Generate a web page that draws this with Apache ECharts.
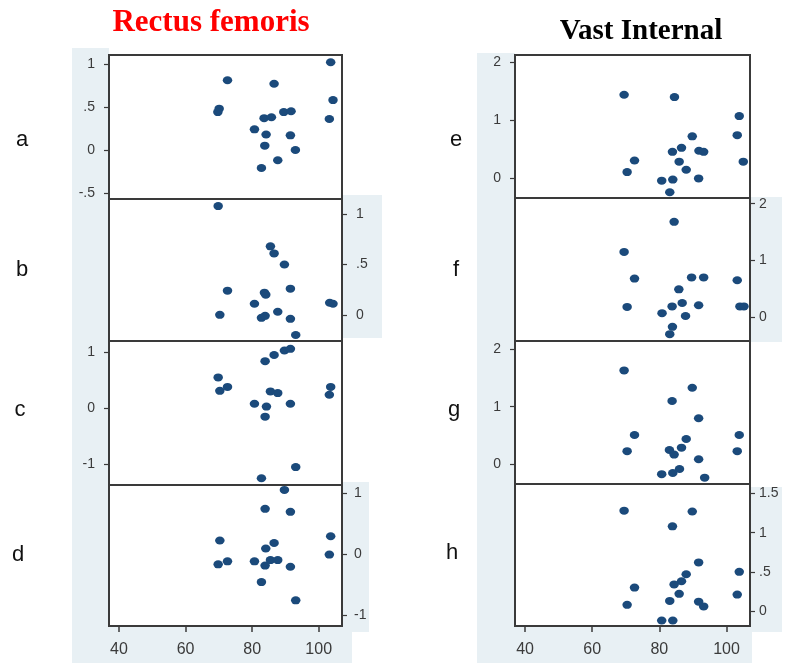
<!DOCTYPE html>
<html>
<head>
<meta charset="utf-8">
<style>
  html, body { margin: 0; padding: 0; background: #fff; }
  #chart { width: 792px; height: 663px; }
</style>
<script src="https://cdn.jsdelivr.net/npm/echarts@6/dist/echarts.min.js"></script>
</head>
<body>
<div id="chart"></div>
<script>
// x axis ticks, shared by both columns
const xTicks = [40, 60, 80, 100]

// Rectus femoris panels (a-d), [x, y]
const panelA = [
  [72.6, 0.81], [70.1, 0.48], [69.7, 0.44], [86.6, 0.77], [80.7, 0.24], [83.6, 0.37],
  [85.8, 0.38], [89.5, 0.44], [91.7, 0.45], [84.2, 0.18], [91.5, 0.17], [83.8, 0.05],
  [93.0, 0.0], [87.7, -0.12], [82.8, -0.21], [103.6, 1.02], [104.3, 0.58], [103.2, 0.36]
]
const panelB = [
  [69.8, 1.08], [85.5, 0.68], [86.6, 0.61], [89.7, 0.50], [72.6, 0.24], [83.7, 0.22],
  [84.1, 0.20], [91.5, 0.26], [80.7, 0.11], [70.3, 0.0], [82.8, -0.03], [83.9, -0.01],
  [87.7, 0.03], [91.5, -0.04], [93.1, -0.2], [103.3, 0.12], [104.3, 0.11]
]
const panelC = [
  [83.9, 0.84], [86.6, 0.95], [89.7, 1.03], [91.5, 1.06], [69.8, 0.55], [70.3, 0.31],
  [72.6, 0.38], [85.5, 0.30], [87.7, 0.27], [80.7, 0.08], [84.3, 0.03], [83.9, -0.15],
  [91.5, 0.08], [103.6, 0.38], [103.2, 0.24], [82.8, -1.25], [93.1, -1.05]
]
const panelD = [
  [89.7, 1.06], [83.9, 0.75], [91.5, 0.70], [70.3, 0.23], [86.6, 0.19], [84.1, 0.10],
  [103.6, 0.30], [103.2, 0.0], [69.8, -0.16], [72.6, -0.11], [80.7, -0.11], [83.9, -0.18],
  [85.5, -0.09], [87.7, -0.09], [91.5, -0.20], [82.8, -0.45], [93.1, -0.75]
]

// Vast Internal panels (e-h), [x, y]
const panelE = [
  [69.5, 1.44], [84.5, 1.40], [103.8, 1.07], [103.2, 0.74], [89.8, 0.72], [86.6, 0.52],
  [83.9, 0.45], [91.8, 0.47], [93.2, 0.45], [72.6, 0.30], [85.9, 0.28], [105.0, 0.28],
  [70.4, 0.10], [88.0, 0.14], [80.7, -0.05], [84.0, -0.03], [91.7, -0.01], [83.1, -0.25]
]
const panelF = [
  [84.4, 1.68], [69.5, 1.15], [72.6, 0.68], [89.6, 0.70], [93.2, 0.70], [103.2, 0.65],
  [85.8, 0.49], [70.4, 0.18], [83.8, 0.19], [86.8, 0.25], [91.7, 0.21], [104.0, 0.19],
  [105.2, 0.19], [80.8, 0.07], [87.8, 0.02], [83.9, -0.17], [83.1, -0.30]
]
const panelG = [
  [69.5, 1.63], [89.8, 1.33], [83.8, 1.10], [91.7, 0.80], [72.6, 0.51], [103.8, 0.51],
  [88.0, 0.44], [86.6, 0.29], [70.4, 0.23], [83.0, 0.25], [84.4, 0.17], [103.2, 0.23],
  [91.7, 0.09], [80.7, -0.17], [84.0, -0.15], [86.0, -0.08], [93.5, -0.23]
]
const panelH = [
  [69.5, 1.28], [89.8, 1.27], [83.9, 1.08], [91.7, 0.62], [103.8, 0.50], [88.0, 0.47],
  [86.6, 0.38], [84.4, 0.34], [72.6, 0.30], [85.9, 0.22], [103.2, 0.21], [83.1, 0.13],
  [91.7, 0.12], [93.2, 0.06], [70.4, 0.08], [80.7, -0.12], [84.0, -0.12]
]

// y ticks per panel
const ticksA = [-0.5, 0, 0.5, 1]
const ticksB = [0, 0.5, 1]
const ticksC = [-1, 0, 1]
const ticksD = [-1, 0, 1]
const ticksE = [0, 1, 2]
const ticksF = [0, 1, 2]
const ticksG = [0, 1, 2]
const ticksH = [0, 0.5, 1, 1.5]

const panelLetters = ['a', 'b', 'c', 'd', 'e', 'f', 'g', 'h']
const columnTitles = ['Rectus femoris', 'Vast Internal']

const BG = '#e8f0f4'
const DOT = '#1b4a7b'
const FRAME = '#3a3a3a'
const LABEL = '#3b3b3b'

// layout of the 8 panels
const panels = [
  { data: panelA, ticks: ticksA, min: -0.57, max: 1.104, left: 109, width: 233, top: 55, height: 144, side: 'left', margin: 14 },
  { data: panelB, ticks: ticksB, min: -0.26, max: 1.15, left: 109, width: 233, top: 199, height: 142, side: 'right', margin: 14 },
  { data: panelC, ticks: ticksC, min: -1.37, max: 1.2, left: 109, width: 233, top: 341, height: 144, side: 'left', margin: 14 },
  { data: panelD, ticks: ticksD, min: -1.17, max: 1.14, left: 109, width: 233, top: 485, height: 141, side: 'right', margin: 12, bottom: true },
  { data: panelE, ticks: ticksE, min: -0.35, max: 2.13, left: 515, width: 235, top: 55, height: 143, side: 'left', margin: 14 },
  { data: panelF, ticks: ticksF, min: -0.42, max: 2.1, left: 515, width: 235, top: 198, height: 143, side: 'right', margin: 9 },
  { data: panelG, ticks: ticksG, min: -0.34, max: 2.14, left: 515, width: 235, top: 341, height: 143, side: 'left', margin: 14 },
  { data: panelH, ticks: ticksH, min: -0.19, max: 1.62, left: 515, width: 235, top: 484, height: 142, side: 'right', margin: 9, bottom: true }
]

const fmt = v => String(v).replace(/^(-?)0\./, '$1.')

const chart = echarts.init(document.getElementById('chart'), null, { renderer: 'canvas' })

const option = {
  backgroundColor: '#fff',
  animation: false,
  grid: panels.map(p => ({
    left: p.left, top: p.top, width: p.width, height: p.height,
    show: true, backgroundColor: '#fff', borderColor: FRAME, borderWidth: 2
  })),
  xAxis: panels.map((p, i) => ({
    type: 'value', gridIndex: i, min: 37, max: 107, show: !!p.bottom,
    position: 'bottom',
    splitLine: { show: false },
    axisLine: { show: false, onZero: false },
    axisTick: { show: true, length: 6, customValues: xTicks, lineStyle: { color: FRAME, width: 1.5 } },
    axisLabel: { customValues: xTicks, margin: 16, fontSize: 16, color: LABEL, fontFamily: 'Liberation Sans, Arial, sans-serif' }
  })),
  yAxis: panels.map((p, i) => ({
    type: 'value', gridIndex: i, min: p.min, max: p.max, position: p.side,
    splitLine: { show: false },
    axisLine: { show: false, onZero: false },
    axisTick: { show: true, length: 5, customValues: p.ticks, lineStyle: { color: FRAME, width: 1.2 } },
    axisLabel: { customValues: p.ticks, formatter: fmt, margin: p.margin, fontSize: 14, color: LABEL, fontFamily: 'Liberation Sans, Arial, sans-serif' }
  })),
  series: panels.map((p, i) => ({
    type: 'scatter', xAxisIndex: i, yAxisIndex: i, data: p.data,
    symbolSize: [9.5, 8], itemStyle: { color: DOT, opacity: 1 }, clip: false
  })),
  graphic: [
    // light backing behind the axes
    { type: 'rect', z: -10, shape: { x: 72, y: 48, width: 37, height: 615 }, style: { fill: BG } },
    { type: 'rect', z: -10, shape: { x: 72, y: 626, width: 280, height: 37 }, style: { fill: BG } },
    { type: 'rect', z: -10, shape: { x: 342, y: 195, width: 40, height: 143 }, style: { fill: BG } },
    { type: 'rect', z: -10, shape: { x: 342, y: 482, width: 27, height: 150 }, style: { fill: BG } },
    { type: 'rect', z: -10, shape: { x: 477, y: 53, width: 38, height: 610 }, style: { fill: BG } },
    { type: 'rect', z: -10, shape: { x: 477, y: 626, width: 275, height: 37 }, style: { fill: BG } },
    { type: 'rect', z: -10, shape: { x: 750, y: 197, width: 32, height: 145 }, style: { fill: BG } },
    { type: 'rect', z: -10, shape: { x: 750, y: 487, width: 32, height: 145 }, style: { fill: BG } },
    {
      type: 'text', z: 100,
      style: { x: 211, y: 23, text: columnTitles[0], textAlign: 'center', textVerticalAlign: 'middle',
        font: 'bold 31px "Liberation Serif", "Times New Roman", serif', fill: '#ff0000' }
    },
    {
      type: 'text', z: 100,
      style: { x: 641, y: 32, text: columnTitles[1], textAlign: 'center', textVerticalAlign: 'middle',
        font: 'bold 29px "Liberation Serif", "Times New Roman", serif', fill: '#000' }
    },
    ...panelLetters.map((t, i) => {
      const pos = [[22, 140], [22, 270], [20, 410], [18, 555], [456, 140], [456, 270], [454, 410], [452, 553]][i]
      return {
        type: 'text', z: 100,
        style: { x: pos[0], y: pos[1], text: t, textAlign: 'center', textVerticalAlign: 'middle',
          font: '22px "Liberation Sans", Arial, sans-serif', fill: '#111' }
      }
    })
  ]
}

chart.setOption(option)
</script>
</body>
</html>
